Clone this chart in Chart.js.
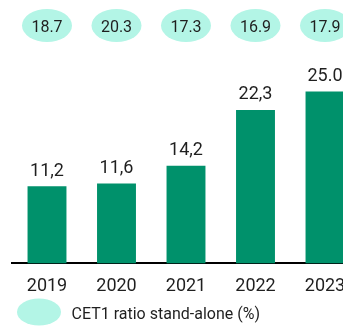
<!DOCTYPE html>
<html>
<head>
<meta charset="utf-8">
<script src="https://cdn.jsdelivr.net/npm/chart.js@4.4.1/dist/chart.umd.min.js"></script>
<style>
  html, body { margin: 0; padding: 0; background: #ffffff; overflow: hidden; }
  #wrap { position: relative; width: 372px; height: 327px; }
</style>
</head>
<body>
<div id="wrap"><canvas id="chart"></canvas></div>
<script>
// Years on the category axis
const years = ['2019', '2020', '2021', '2022', '2023'];
// Bar series values
const barValues = [11.2, 11.6, 14.2, 22.3, 25.0];
// Printed labels above the bars
const barLabels = ['11,2', '11,6', '14,2', '22,3', '25.0'];
// CET1 ratio stand-alone (%) shown in the bubble row
const cet1Values = [18.7, 20.3, 17.3, 16.9, 17.9];
const cet1Labels = ['18.7', '20.3', '17.3', '16.9', '17.9'];
const legendText = 'CET1 ratio stand-alone (%)';

const BAR_GREEN = '#00916B';
const MINT = '#B3F5E6';
const INK = '#1f1f1f';
const FONT = 'Roboto, "Noto Sans", sans-serif';

const overlay = {
  id: 'overlay',
  afterDatasetsDraw(chart) {
    const ctx = chart.ctx;
    const x = chart.scales.x;
    const meta = chart.getDatasetMeta(0);
    ctx.save();
    // value labels above bars
    ctx.fillStyle = INK;
    ctx.font = '18px ' + FONT;
    ctx.textAlign = 'center';
    ctx.textBaseline = 'alphabetic';
    meta.data.forEach((bar, i) => {
      ctx.fillText(barLabels[i], bar.x, bar.y - 10.5);
    });
    // CET1 bubbles along the top
    cet1Values.forEach((v, i) => {
      const cx = x.getPixelForValue(i);
      ctx.beginPath();
      ctx.ellipse(cx, 25.5, 25, 16.5, 0, 0, Math.PI * 2);
      ctx.fillStyle = MINT;
      ctx.fill();
      ctx.fillStyle = INK;
      ctx.font = '16px ' + FONT;
      ctx.fillText(cet1Labels[i], cx, 31.5);
    });
    // legend
    ctx.beginPath();
    ctx.ellipse(39, 312, 22, 13.5, 0, 0, Math.PI * 2);
    ctx.fillStyle = MINT;
    ctx.fill();
    ctx.fillStyle = INK;
    ctx.font = '16px ' + FONT;
    ctx.textAlign = 'left';
    ctx.fillText(legendText, 71.5, 319);
    ctx.restore();
  }
};

new Chart(document.getElementById('chart'), {
  type: 'bar',
  data: {
    labels: years,
    datasets: [{
      label: 'Value',
      data: barValues,
      backgroundColor: BAR_GREEN,
      borderWidth: 0,
      barPercentage: 0.56,
      categoryPercentage: 1.0
    }]
  },
  options: {
    responsive: true,
    maintainAspectRatio: false,
    animation: false,
    layout: { padding: { left: 12.25, right: 12.25, top: 57, bottom: 18 } },
    plugins: { legend: { display: false }, tooltip: { enabled: false } },
    scales: {
      x: {
        grid: { display: false, drawTicks: false },
        border: { display: true, color: '#000000', width: 2 },
        ticks: { color: INK, font: { family: FONT, size: 18 }, padding: 12, maxRotation: 0 }
      },
      y: {
        display: false,
        min: 0,
        max: 30
      }
    }
  },
  plugins: [overlay]
});
</script>
</body>
</html>
